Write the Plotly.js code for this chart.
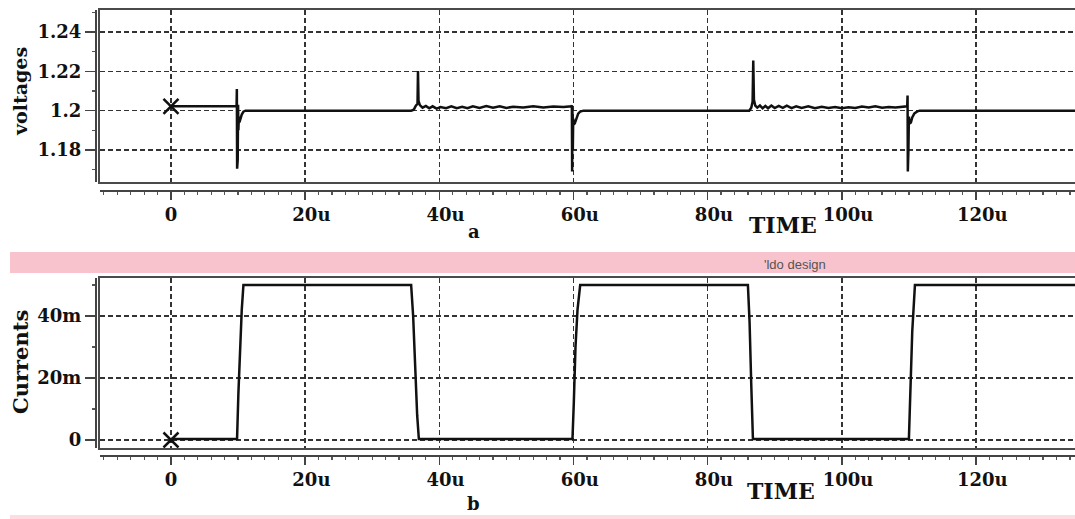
<!DOCTYPE html>
<html><head><meta charset="utf-8">
<script src="https://cdn.plot.ly/plotly-3.0.1.min.js"></script>
<style>html,body{margin:0;padding:0;background:#fff}#chart{width:1075px;height:519px}</style>
</head><body><div id="chart"></div>
<script>
// time in microseconds
const timeV = [0,9.78,9.82,9.86,9.9,9.95,10.0,10.05,10.12,10.2,10.35,10.55,10.8,11.1,
  35.8,36.2,36.5,36.75,36.82,36.9,37.1,37.5,38.0,38.5,39.0,39.6,40.2,41.0,41.8,42.6,43.4,44.2,45.0,46.0,47.0,48.0,49.0,50.0,51.0,52.5,54.0,55.5,57.0,58.5,59.7,
  59.76,59.8,59.84,59.9,59.96,60.05,60.2,60.4,60.7,61.0,61.5,
  86.2,86.5,86.7,86.8,86.9,87.1,87.4,87.8,88.2,88.6,89.0,89.5,90.0,90.6,91.2,91.8,92.5,93.2,94.0,95.0,96.0,97.0,98.0,99.0,100.0,101.0,102.0,103.0,104.0,105.0,106.0,107.0,108.0,109.0,109.75,
  109.8,109.84,109.88,109.93,110.0,110.1,110.3,110.5,110.8,111.2,111.6,136];
const voltage = [1.2022,1.2022,1.211,1.1705,1.206,1.175,1.203,1.19,1.197,1.194,1.196,1.198,1.1995,1.2,
  1.2,1.2005,1.2025,1.2035,1.2202,1.205,1.2028,1.2015,1.2024,1.2012,1.2022,1.201,1.2018,1.2012,1.2022,1.2013,1.202,1.2012,1.2022,1.2014,1.2024,1.2015,1.2022,1.2014,1.202,1.2016,1.2022,1.2016,1.2021,1.2018,1.2022,
  1.2028,1.169,1.2005,1.18,1.196,1.193,1.1935,1.196,1.1985,1.1995,1.2,
  1.2,1.2015,1.2045,1.2255,1.2055,1.2025,1.2015,1.2026,1.2012,1.2024,1.2012,1.2026,1.2013,1.2024,1.2014,1.2025,1.2013,1.2022,1.2014,1.2022,1.2012,1.202,1.2013,1.2018,1.2012,1.2017,1.2013,1.2021,1.2016,1.2022,1.2015,1.2019,1.2016,1.2019,1.2022,
  1.2077,1.169,1.2,1.18,1.197,1.1935,1.194,1.1965,1.1985,1.1995,1.2,1.2];
const timeI = [0,9.85,10.05,10.3,10.55,10.8,35.8,36.1,36.4,36.7,36.95,59.85,60.05,60.3,60.6,61.0,86.0,86.25,86.5,86.75,110.0,110.25,110.5,110.9,136];
const current = [0.3,0.3,15,30,42,50,50,40,22,8,0.3,0.3,12,30,42,50,50,38,18,0.3,0.3,20,35,50,50]; // mA
const markerTime = [0];
const markerVoltage = [1.2022];
const markerCurrent = [0];
const xTickVals = [0,20,40,60,80,100,120];
const xTickText = ['0','20u','40u','60u','80u','100u','120u'];
const vTickVals = [1.18,1.2,1.22,1.24];
const vTickText = ['1.18','1.2','1.22','1.24'];
const iTickVals = [0,20,40];
const iTickText = ['0','20m','40m'];

const W = 1075, H = 519;
const px = x => x / W;
const py = y => 1 - y / H;
const xRange = [-10.58, 134.76];
const vRange = [1.1637, 1.2512];
const iRange = [-2.58, 52.26];

// the unit suffix hangs to the right of the number, which is centred on its tick
const xTickShown = xTickText.map(t => /u$/.test(t) ? '\u00a0\u00a0' + t : t);

const tickFont = {family: 'DejaVu Serif', size: 18, weight: 'bold', color: '#111'};
const lineStyle = {color: '#111', width: 2.5};
const markerStyle = {symbol: 'x-thin-open', size: 15, color: '#111', line: {color: '#111', width: 2.5}};

const traces = [
  {x: timeV, y: voltage, xaxis: 'x', yaxis: 'y', mode: 'lines', line: lineStyle, hoverinfo: 'skip'},
  {x: markerTime, y: markerVoltage, xaxis: 'x', yaxis: 'y', mode: 'markers', marker: markerStyle, hoverinfo: 'skip'},
  {x: timeI, y: current, xaxis: 'x2', yaxis: 'y2', mode: 'lines', line: lineStyle, hoverinfo: 'skip'},
  {x: markerTime, y: markerCurrent, xaxis: 'x2', yaxis: 'y2', mode: 'markers', marker: markerStyle, hoverinfo: 'skip'},
  // carriers for the separate tick axes
  {x: timeV, y: voltage, xaxis: 'x3', yaxis: 'y', mode: 'lines', opacity: 0, hoverinfo: 'skip'},
  {x: timeV, y: voltage, xaxis: 'x', yaxis: 'y3', mode: 'lines', opacity: 0, hoverinfo: 'skip'},
  {x: timeI, y: current, xaxis: 'x4', yaxis: 'y2', mode: 'lines', opacity: 0, hoverinfo: 'skip'},
  {x: timeI, y: current, xaxis: 'x2', yaxis: 'y4', mode: 'lines', opacity: 0, hoverinfo: 'skip'}
];

const frameX = (anchor) => ({
  domain: [px(100), 1], range: xRange, anchor: anchor,
  showline: true, mirror: true, linecolor: '#4a4a4a', linewidth: 2,
  showgrid: true, gridcolor: '#333', griddash: '5px,3px', gridwidth: 1.4,
  tickmode: 'array', tickvals: xTickVals, showticklabels: false, ticks: '', zeroline: false, fixedrange: true
});
const frameY = (anchor, dom, rng, vals) => ({
  domain: dom, range: rng, anchor: anchor,
  showline: true, mirror: true, linecolor: '#4a4a4a', linewidth: 2,
  showgrid: true, gridcolor: '#333', griddash: '5px,3px', gridwidth: 1.4,
  tickmode: 'array', tickvals: vals, showticklabels: false, ticks: '', zeroline: false, fixedrange: true
});
const tickX = (over, posY) => ({
  overlaying: over, anchor: 'free', position: py(posY), range: xRange, side: 'bottom',
  showline: true, linecolor: '#444', linewidth: 1.5, showgrid: false, zeroline: false,
  tickmode: 'array', tickvals: xTickVals, ticktext: xTickShown, ticks: 'outside', ticklen: 8, tickwidth: 1.5, tickcolor: '#444',
  minor: {tickmode: 'linear', tick0: 0, dtick: 2, ticks: 'outside', ticklen: 3, tickwidth: 1.2, tickcolor: '#555'},
  tickfont: tickFont, fixedrange: true
});
const tickY = (over, rng, vals, txt, mdt) => ({
  overlaying: over, anchor: 'free', position: px(95), range: rng, side: 'left',
  showline: true, linecolor: '#444', linewidth: 1.5, showgrid: false, zeroline: false,
  tickmode: 'array', tickvals: vals, ticktext: txt, ticks: 'outside', ticklen: 10, tickwidth: 1.5, tickcolor: '#444',
  minor: {tickmode: 'linear', tick0: 0, dtick: mdt, ticks: 'outside', ticklen: 3, tickwidth: 1.2, tickcolor: '#555'},
  tickfont: tickFont, fixedrange: true
});

const titleFont = (s) => ({family: 'DejaVu Serif', size: s, weight: 'bold', color: '#111'});
const ann = (text, x, y, size, angle) => ({
  text: text, xref: 'paper', yref: 'paper', x: px(x), y: py(y), xanchor: 'center', yanchor: 'middle',
  showarrow: false, font: titleFont(size), textangle: angle || 0
});

const layout = {
  width: W, height: H, autosize: false, showlegend: false,
  margin: {l: 0, r: 0, t: 0, b: 0},
  paper_bgcolor: '#fff', plot_bgcolor: '#fff',
  xaxis: frameX('y'),
  yaxis: frameY('x', [py(182), py(10)], vRange, vTickVals),
  xaxis2: frameX('y2'),
  yaxis2: frameY('x2', [py(448), py(278)], iRange, iTickVals),
  xaxis3: tickX('x', 190),
  yaxis3: tickY('y', vRange, vTickVals, vTickText, 0.01),
  xaxis4: tickX('x2', 455),
  yaxis4: tickY('y2', iRange, iTickVals, iTickText, 10),
  shapes: [
    {type: 'rect', xref: 'paper', yref: 'paper', x0: px(10), x1: 1, y0: py(273), y1: py(252), fillcolor: '#f9c3cd', line: {width: 0}, layer: 'below'},
    {type: 'rect', xref: 'paper', yref: 'paper', x0: px(10), x1: 1, y0: py(519), y1: py(515), fillcolor: '#fbdde2', line: {width: 0}, layer: 'below'}
  ],
  annotations: [
    ann('voltages', 20, 92, 19, -90),
    ann('Currents', 20, 362, 21, -90),
    ann('TIME', 783, 225, 22),
    ann('TIME', 781, 491, 22),
    ann('a', 474, 231, 18),
    ann('b', 473, 503, 18),
    {text: "'ldo design", xref: 'paper', yref: 'paper', x: px(795), y: py(264), xanchor: 'center', yanchor: 'middle',
     showarrow: false, font: {family: 'Liberation Sans', size: 13, color: '#555'}}
  ]
};

Plotly.newPlot('chart', traces, layout, {staticPlot: true, displayModeBar: false});
</script>
</body></html>
